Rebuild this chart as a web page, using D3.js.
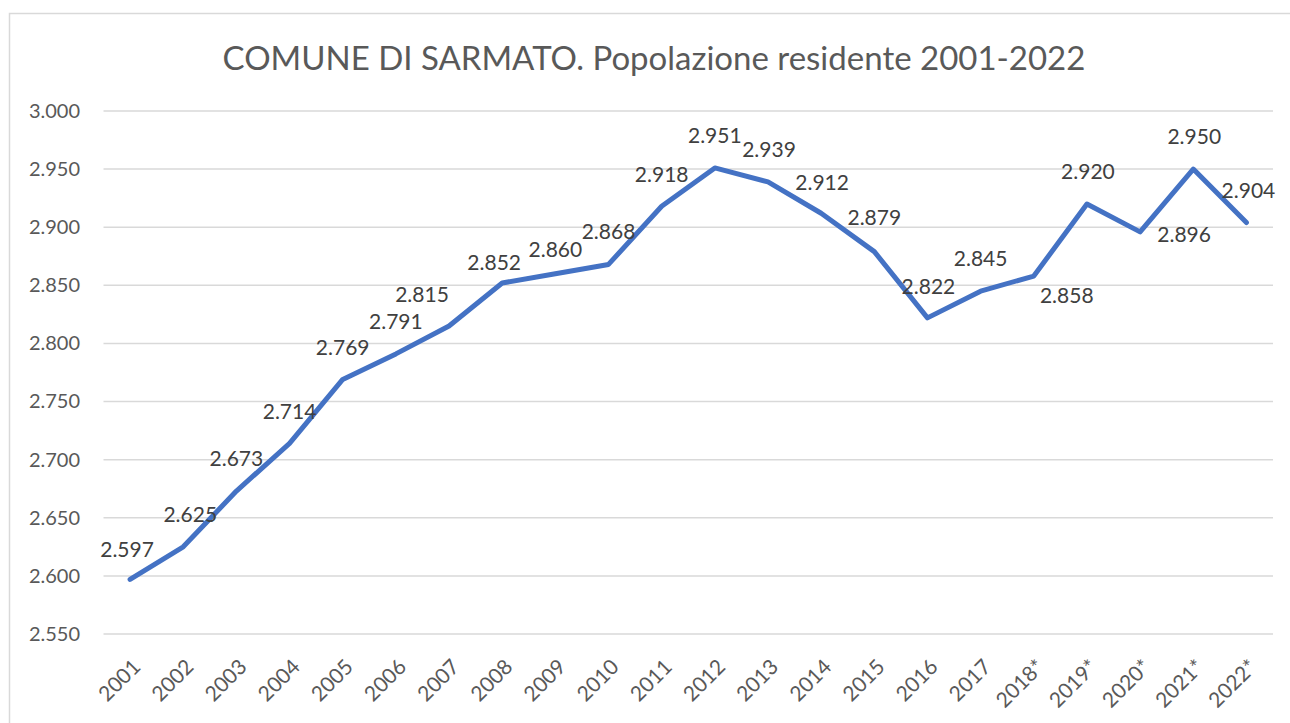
<!DOCTYPE html>
<html>
<head>
<meta charset="utf-8">
<script src="https://cdn.jsdelivr.net/npm/d3@7"></script>
<style>
  body { margin: 0; background: #fff; }
  text { font-family: Lato, "Open Sans", sans-serif; }
</style>
</head>
<body>
<div id="chart"></div>
<script>
// Data
let years = ["2001", "2002", "2003", "2004", "2005", "2006", "2007", "2008", "2009", "2010", "2011",
  "2012", "2013", "2014", "2015", "2016", "2017", "2018*", "2019*", "2020*", "2021*", "2022*"];
let population = [2597, 2625, 2673, 2714, 2769, 2791, 2815, 2852, 2860, 2868, 2918,
  2951, 2939, 2912, 2879, 2822, 2845, 2858, 2920, 2896, 2950, 2904];
let yTicks = [2550, 2600, 2650, 2700, 2750, 2800, 2850, 2900, 2950, 3000];

// where excel put each data label, relative to its point (dx, dy)
let labelOffsets = [
  [-3, -30], [7, -32], [0, -32], [0, -32], [0, -32], [0, -32], [-27, -31], [-8, -20], [0, -24], [0, -33],
  [0, -32], [0, -32], [1, -32], [1, -31], [0, -34], [1, -31], [0, -32], [33, 20], [1, -32], [44, 3],
  [1, -32], [2, -32]
];

let svgWidth = 1290;
let svgHeight = 723;

let svg = d3.select("#chart")
  .append("svg")
  .attr("width", svgWidth)
  .attr("height", svgHeight);

// outer border of the chart area
svg.append("rect")
  .attr("x", 9.5)
  .attr("y", 13.5)
  .attr("width", 1300)
  .attr("height", 720)
  .attr("fill", "none")
  .attr("stroke", "#d9d9d9")
  .attr("stroke-width", 1.5);

// title
svg.append("text")
  .attr("x", 654)
  .attr("y", 70)
  .attr("text-anchor", "middle")
  .style("font-size", "33px")
  .style("fill", "#595959")
  .text("COMUNE DI SARMATO. Popolazione residente 2001-2022");

let plotLeft = 103.5;
let plotRight = 1273;

let xScale = d3.scalePoint()
  .domain(years)
  .range([plotLeft, plotRight])
  .padding(0.5);

let yScale = d3.scaleLinear()
  .domain([2550, 3000])
  .range([634, 111]);

// gridlines
svg.append("g")
  .selectAll("line")
  .data(yTicks)
  .enter()
  .append("line")
  .attr("x1", plotLeft)
  .attr("x2", plotRight)
  .attr("y1", d => yScale(d))
  .attr("y2", d => yScale(d))
  .attr("stroke", "#d9d9d9")
  .attr("stroke-width", 1.5);

// numbers in italian style: 2.597
let fmtInt = d3.formatLocale({ decimal: ",", thousands: ".", grouping: [3], currency: ["", "€"] }).format(",d");

let leftAxis = d3.axisLeft(yScale)
  .tickValues(yTicks)
  .tickSize(0)
  .tickPadding(0)
  .tickFormat(d => fmtInt(d));

let yAxis = svg.append("g")
  .attr("transform", "translate(80, 0)")
  .call(leftAxis);
yAxis.select(".domain").remove();
yAxis.selectAll("text")
  .style("font-size", "20px")
  .style("fill", "#595959")
  .style("font-family", "Lato, 'Open Sans', sans-serif");

// x axis labels, rotated
let bottomAxis = d3.axisBottom(xScale).tickSize(0).tickPadding(0);
let xAxis = svg.append("g")
  .attr("transform", "translate(0, 659)")
  .call(bottomAxis);
xAxis.select(".domain").remove();
xAxis.selectAll("text")
  .attr("text-anchor", "end")
  .attr("dy", "0.35em")
  .attr("transform", "translate(6, 4) rotate(-45)")
  .style("font-size", "21px")
  .style("fill", "#595959")
  .style("font-family", "Lato, 'Open Sans', sans-serif");

// the line
let line = d3.line()
  .x((d, i) => xScale(years[i]))
  .y(d => yScale(d));

svg.append("path")
  .datum(population)
  .attr("d", line)
  .attr("fill", "none")
  .attr("stroke", "#4472C4")
  .attr("stroke-width", 5)
  .attr("stroke-linejoin", "round")
  .attr("stroke-linecap", "round");

// data labels
svg.append("g")
  .selectAll("text")
  .data(population)
  .enter()
  .append("text")
  .attr("x", (d, i) => xScale(years[i]) + labelOffsets[i][0])
  .attr("y", (d, i) => yScale(d) + labelOffsets[i][1])
  .attr("dy", "0.35em")
  .attr("text-anchor", "middle")
  .style("font-size", "21px")
  .style("fill", "#404040")
  .text(d => fmtInt(d));
</script>
</body>
</html>
